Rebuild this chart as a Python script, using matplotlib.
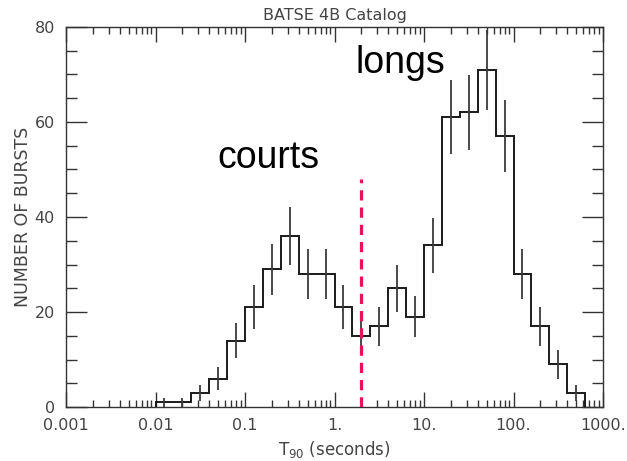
import numpy as np
import matplotlib
matplotlib.use("Agg")
import matplotlib.pyplot as plt
from matplotlib.ticker import FixedLocator, FixedFormatter, MultipleLocator, LogLocator, NullFormatter

# T90 histogram, BATSE 4B catalog (log-spaced bins, 5 per decade)
bin_edges = [0.01, 0.0158, 0.0251, 0.0398, 0.0631, 0.1, 0.158, 0.251, 0.398, 0.631,
             1.0, 1.58, 2.51, 3.98, 6.31, 10.0, 15.8, 25.1, 39.8, 63.1,
             100.0, 158.0, 251.0, 398.0, 631.0]
counts = [1, 1, 3, 6, 14, 21, 29, 36, 28, 28,
          21, 15, 17, 25, 19, 34, 61, 62, 71, 57,
          28, 17, 9, 3]

x_tick_values = [0.001, 0.01, 0.1, 1, 10, 100, 1000]
x_tick_labels = ["0.001", "0.01", "0.1", "1.", "10.", "100.", "1000."]
y_tick_values = [0, 20, 40, 60, 80]
y_tick_labels = ["0", "20", "40", "60", "80"]

split_t90 = 2.0
split_height = 48

edges = np.array(bin_edges)
n = np.array(counts, dtype=float)
centers = np.sqrt(edges[:-1] * edges[1:])
errors = np.sqrt(n)

fig = plt.figure(figsize=(6.27, 4.61), dpi=100)
ax = fig.add_axes([66 / 627, 1 - 407 / 461, (603 - 66) / 627, (407 - 27) / 461])

axis_color = "#333333"
text_color = "#444444"
ax.stairs(n, edges, baseline=0, fill=False, color="#1a1a1a", linewidth=1.4, zorder=3)
ax.errorbar(centers, n, yerr=errors, fmt="none", ecolor="#3a3a3a",
            elinewidth=1.3, capsize=0, zorder=3)

ax.plot([split_t90, split_t90], [0, split_height], color="#e8125c",
        linewidth=2.3, linestyle=(0, (3.2, 2.2)), zorder=4)

ax.set_xscale("log")
ax.set_xlim(0.001, 1000)
ax.set_ylim(0, 80)

ax.xaxis.set_major_locator(FixedLocator(x_tick_values))
ax.xaxis.set_major_formatter(FixedFormatter(x_tick_labels))
ax.xaxis.set_minor_locator(LogLocator(base=10, subs=np.arange(2, 10), numticks=20))
ax.xaxis.set_minor_formatter(NullFormatter())
ax.yaxis.set_major_locator(FixedLocator(y_tick_values))
ax.yaxis.set_major_formatter(FixedFormatter(y_tick_labels))
ax.yaxis.set_minor_locator(MultipleLocator(5))

ax.tick_params(axis="both", which="both", direction="in", top=True, right=True,
               color=axis_color, width=1.0, labelcolor=text_color, labelsize=11.5)
ax.tick_params(axis="x", which="major", length=10.5, pad=8)
ax.tick_params(axis="x", which="minor", length=5)
ax.tick_params(axis="y", which="major", length=15, pad=8)
ax.tick_params(axis="y", which="minor", length=8)

for spine in ax.spines.values():
    spine.set_color(axis_color)
    spine.set_linewidth(1.0)

ax.set_title("BATSE 4B Catalog", fontsize=11.5, color=text_color, pad=5)
ax.set_xlabel(r"T$_{\mathregular{90}}$ (seconds)", fontsize=12, color=text_color, labelpad=4)
ax.set_ylabel("NUMBER OF BURSTS", fontsize=12.5, color=text_color, labelpad=2)

ax.text(0.185, 50.4, "courts", fontsize=27, family="Liberation Sans",
        ha="center", va="baseline", color="black")
ax.text(5.4, 70.4, "longs", fontsize=27, family="Liberation Sans",
        ha="center", va="baseline", color="black")

fig.savefig("out.png", dpi=100, facecolor="white")
